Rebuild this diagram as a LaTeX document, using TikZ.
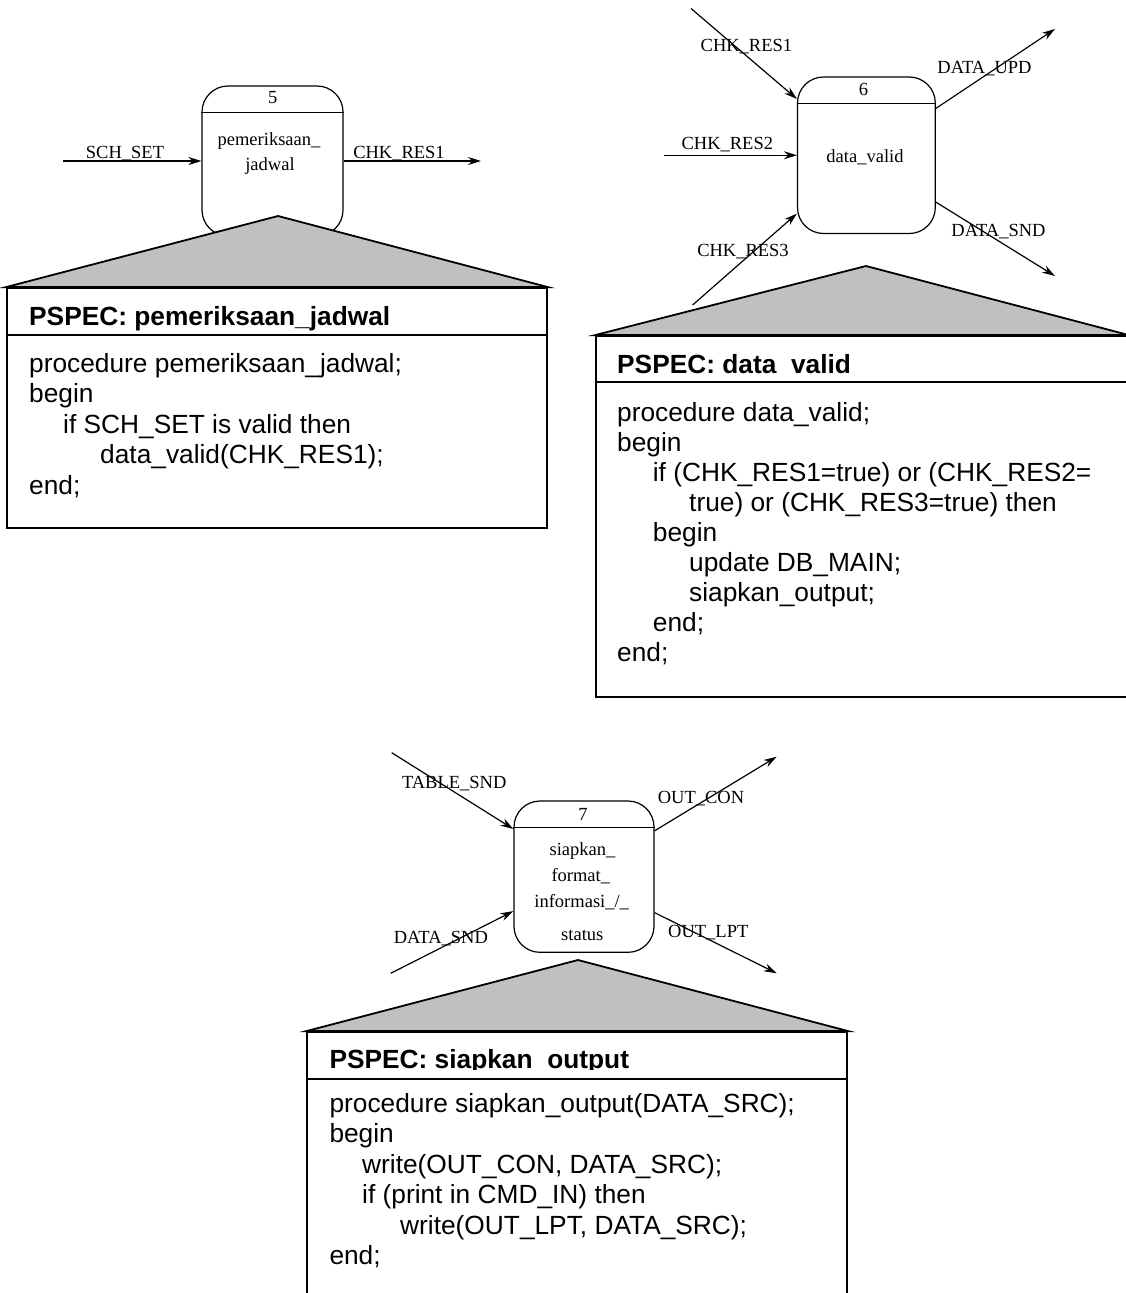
\documentclass[tikz,border=0pt]{standalone}
\usepackage{fontspec}
\setmainfont{Liberation Sans}
\newfontfamily\dfdserif{Liberation Serif}
\usetikzlibrary{arrows.meta}
\definecolor{triGray}{HTML}{C0C0C0}
\newcommand\dfdfont{\dfdserif\fontsize{18.5}{20}\selectfont}
\newcommand\codefont{\fontsize{26.3}{30}\selectfont}
\newcommand\headfont{\bfseries\fontsize{26.3}{30}\selectfont}
\begin{document}
\begin{tikzpicture}[x=1pt,y=-1pt,
  proc/.style={draw, line width=1.2pt, rounded corners=26pt, fill=white, inner sep=0pt},
  procline/.style={line width=1.2pt},
  lbl/.style={font=\dfdfont, anchor=base, inner sep=0pt},
  flow/.style={line width=1.2pt, -{Stealth[length=13pt,width=8pt]}},
  tri/.style={draw, line width=1.8pt, fill=triGray, line join=miter},
  pbox/.style={draw, line width=1.8pt, fill=white, inner sep=0pt},
  pline/.style={line width=1.8pt},
  code/.style={font=\codefont, anchor=base west, inner sep=0pt},
  head/.style={font=\headfont, anchor=base west, inner sep=0pt}]
\useasboundingbox (0,0) rectangle (1126,1293);

% ---------------- process 5 ----------------
\node[proc, minimum width=141pt, minimum height=150pt] (p5) at (272.5,161) {};
\draw[procline] ([yshift=-27pt]p5.north west) -- ([yshift=-27pt]p5.north east);
\node[lbl] (p5n) at (272.7,103.3) {5};
\node[lbl] (p5t1) at (269,145) {pemeriksaan\_};
\node[lbl] (p5t2) at (270,170) {jadwal};
\coordinate (c5a) at (63,161);
\coordinate (c5b) at (481,161);
\draw[flow] (c5a) -- (p5.west);
\draw[flow] (p5.east) -- (c5b);
\node[lbl] (l5a) at (125,158.3) {SCH\_SET};
\node[lbl] (l5b) at (399,158.3) {CHK\_RES1};

% PSPEC 1
\node[pbox, minimum width=540pt, minimum height=240pt] (s1) at (277,408) {};
\draw[pline] ([yshift=-48pt]s1.north west) -- ([yshift=-48pt]s1.north east);
\coordinate (a1) at (278,216);
\draw[tri] (s1.north west) -- (a1) -- (s1.north east) -- cycle;
\node[head] (h1) at (29,325) {PSPEC: pemeriksaan\_jadwal};
\node[code] (b1a) at (29,372) {procedure pemeriksaan\_jadwal;};
\node[code] (b1b) at (29,402.5) {begin};
\node[code] (b1c) at (63,433) {if SCH\_SET is valid then};
\node[code] (b1d) at (100,463.5) {data\_valid(CHK\_RES1);};
\node[code] (b1e) at (29,494) {end;};

% ---------------- process 6 ----------------
\node[proc, minimum width=137.8pt, minimum height=156.5pt] (p6) at (866.4,155.25) {};
\draw[procline] ([yshift=-27pt]p6.north west) -- ([yshift=-27pt]p6.north east);
\node[lbl] (p6n) at (863.5,95.7) {6};
\node[lbl] (p6t) at (865,162.4) {data\_valid};
\coordinate (c6a) at (691,8.5);
\coordinate (c6b) at (663.5,155.25);
\coordinate (c6c) at (692.6,305);
\coordinate (c6d) at (1055,29);
\coordinate (c6e) at (1055,276);
\draw[flow] (c6a) -- (p6.141.3);
\draw[flow] (c6b) -- (p6.west);
\draw[flow] (c6c) -- (p6.220.8);
\draw[flow] (p6.34.6) -- (c6d);
\draw[flow] (p6.-34) -- (c6e);
\node[lbl] (l6a) at (746.4,51.3) {CHK\_RES1};
\node[lbl] (l6b) at (727.3,149.7) {CHK\_RES2};
\node[lbl] (l6c) at (743,256.4) {CHK\_RES3};
\node[lbl] (l6d) at (984.5,73.5) {DATA\_UPD};
\node[lbl] (l6e) at (998.5,236.6) {DATA\_SND};

% PSPEC 2
\node[pbox, minimum width=532pt, minimum height=361pt] (s2) at (862,516.5) {};
\draw[pline] ([yshift=-47pt]s2.north west) -- ([yshift=-47pt]s2.north east);
\coordinate (a2) at (866,266);
\draw[tri] (s2.north west) -- (a2) -- (s2.north east) -- cycle;
\begin{scope}
\clip (596,336) rectangle (1128,374.6);
\node[head] (h2) at (617,373.3) {PSPEC: data\_valid};
\end{scope}
\node[code] (b2a) at (617,421.7) {procedure data\_valid;};
\node[code] (b2b) at (617,451.7) {begin};
\node[code] (b2c) at (652.7,481.7) {if (CHK\_RES1=true) or (CHK\_RES2=};
\node[code] (b2d) at (689,511.7) {true) or (CHK\_RES3=true) then};
\node[code] (b2e) at (652.7,541.7) {begin};
\node[code] (b2f) at (689,571.7) {update DB\_MAIN;};
\node[code] (b2g) at (689,601.7) {siapkan\_output;};
\node[code] (b2h) at (652.7,631.7) {end;};
\node[code] (b2i) at (617,661.7) {end;};

% ---------------- process 7 ----------------
\node[proc, minimum width=140pt, minimum height=151.3pt] (p7) at (584,876.65) {};
\draw[procline] ([yshift=-27pt]p7.north west) -- ([yshift=-27pt]p7.north east);
\node[lbl] (p7n) at (583,820) {7};
\node[lbl] (p7t1) at (582.5,855) {siapkan\_};
\node[lbl] (p7t2) at (580.8,881) {format\_};
\node[lbl] (p7t3) at (581.7,907) {informasi\_/\_};
\node[lbl] (p7t4) at (582.3,940) {status};
\coordinate (c7a) at (391.7,752.7);
\coordinate (c7b) at (390.7,973.3);
\coordinate (c7c) at (776.7,756.7);
\coordinate (c7d) at (776.7,973.3);
\draw[flow] (c7a) -- (p7.146.3);
\draw[flow] (c7b) -- (p7.206.6);
\draw[flow] (p7.33.7) -- (c7c);
\draw[flow] (p7.-27.6) -- (c7d);
\node[lbl] (l7a) at (454.2,788.3) {TABLE\_SND};
\node[lbl] (l7b) at (440.8,943.3) {DATA\_SND};
\node[lbl] (l7c) at (701,803.3) {OUT\_CON};
\node[lbl] (l7d) at (708.3,937.3) {OUT\_LPT};

% PSPEC 3
\node[pbox, minimum width=540pt, minimum height=268pt] (s3) at (577.3,1166) {};
\draw[pline] ([yshift=-48pt]s3.north west) -- ([yshift=-48pt]s3.north east);
\coordinate (a3) at (578,960);
\draw[tri] (s3.north west) -- (a3) -- (s3.north east) -- cycle;
\begin{scope}
\clip (307,1032) rectangle (848,1069.8);
\node[head] (h3) at (329.3,1068.3) {PSPEC: siapkan\_output};
\end{scope}
\node[code] (b3a) at (329.3,1112) {procedure siapkan\_output(DATA\_SRC);};
\node[code] (b3b) at (329.3,1142.5) {begin};
\node[code] (b3c) at (362,1173) {write(OUT\_CON, DATA\_SRC);};
\node[code] (b3d) at (362,1203.5) {if (print in CMD\_IN) then};
\node[code] (b3e) at (400,1234) {write(OUT\_LPT, DATA\_SRC);};
\node[code] (b3f) at (329.3,1264.5) {end;};
\end{tikzpicture}
\end{document}
